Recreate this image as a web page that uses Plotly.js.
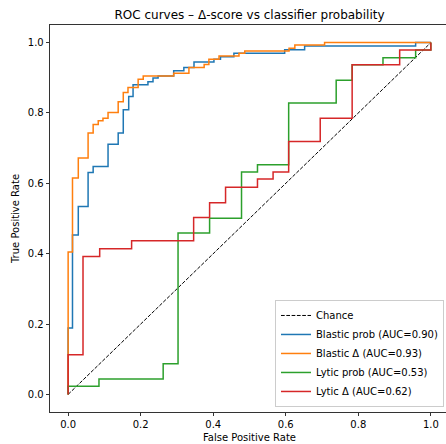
<!DOCTYPE html>
<html>
<head>
<meta charset="utf-8">
<script src="https://cdn.plot.ly/plotly-3.0.1.min.js"></script>
<style>
  html, body { margin: 0; padding: 0; overflow: hidden; background: #fff; }
  #chart { width: 452px; height: 444px; }
</style>
</head>
<body>
<div id="chart"></div>
<script>
// ---- data ----
const chartTitle = "ROC curves – Δ-score vs classifier probability";
const xTitle = "False Positive Rate";
const yTitle = "True Positive Rate";
const tickVals = [0, 0.2, 0.4, 0.6, 0.8, 1.0];
const tickLabels = ["0.0", "0.2", "0.4", "0.6", "0.8", "1.0"];

const seriesNames = ["Chance", "Blastic prob (AUC=0.90)", "Blastic Δ (AUC=0.93)", "Lytic prob (AUC=0.53)", "Lytic Δ (AUC=0.62)"];

const chanceFpr = [0, 1];
const chanceTpr = [0, 1];

const blasticProbFpr = [0, 0, 0.012, 0.012, 0.028, 0.028, 0.055, 0.055, 0.069, 0.069, 0.110, 0.110, 0.138, 0.138, 0.152, 0.152, 0.167, 0.167, 0.179, 0.179, 0.220, 0.220, 0.234, 0.234, 0.248, 0.248, 0.291, 0.291, 0.319, 0.319, 0.347, 0.347, 0.402, 0.402, 0.420, 0.420, 0.457, 0.457, 0.597, 0.597, 0.652, 0.652, 0.958, 0.958, 1.0];
const blasticProbTpr = [0, 0.189, 0.189, 0.453, 0.453, 0.534, 0.534, 0.631, 0.631, 0.648, 0.648, 0.711, 0.711, 0.743, 0.743, 0.809, 0.809, 0.847, 0.847, 0.880, 0.880, 0.889, 0.889, 0.899, 0.899, 0.905, 0.905, 0.920, 0.920, 0.929, 0.929, 0.945, 0.945, 0.953, 0.953, 0.960, 0.960, 0.970, 0.970, 0.980, 0.980, 0.990, 0.990, 1.0, 1.0];

const blasticDeltaFpr = [0, 0, 0.012, 0.012, 0.028, 0.028, 0.055, 0.055, 0.069, 0.069, 0.083, 0.083, 0.096, 0.096, 0.110, 0.110, 0.138, 0.138, 0.152, 0.152, 0.165, 0.165, 0.193, 0.193, 0.207, 0.207, 0.291, 0.291, 0.333, 0.333, 0.375, 0.375, 0.388, 0.388, 0.416, 0.416, 0.471, 0.471, 0.487, 0.487, 0.609, 0.609, 0.625, 0.625, 0.707, 0.707, 1.0];
const blasticDeltaTpr = [0, 0.405, 0.405, 0.615, 0.615, 0.672, 0.672, 0.743, 0.743, 0.767, 0.767, 0.778, 0.778, 0.785, 0.785, 0.801, 0.801, 0.832, 0.832, 0.858, 0.858, 0.872, 0.872, 0.896, 0.896, 0.905, 0.905, 0.913, 0.913, 0.929, 0.929, 0.938, 0.938, 0.953, 0.953, 0.962, 0.962, 0.970, 0.970, 0.976, 0.976, 0.984, 0.984, 0.993, 0.993, 1.0, 1.0];

const lyticProbFpr = [0, 0, 0.085, 0.085, 0.262, 0.262, 0.303, 0.303, 0.390, 0.390, 0.478, 0.478, 0.522, 0.522, 0.608, 0.608, 0.739, 0.739, 0.783, 0.783, 0.868, 0.868, 0.958, 0.958, 1.0, 1.0];
const lyticProbTpr = [0, 0.023, 0.023, 0.044, 0.044, 0.087, 0.087, 0.459, 0.459, 0.501, 0.501, 0.632, 0.632, 0.653, 0.653, 0.828, 0.828, 0.893, 0.893, 0.937, 0.937, 0.957, 0.957, 0.979, 0.979, 1.0];

const lyticDeltaFpr = [0, 0, 0.041, 0.041, 0.087, 0.087, 0.175, 0.175, 0.346, 0.346, 0.390, 0.390, 0.434, 0.434, 0.522, 0.522, 0.565, 0.565, 0.608, 0.608, 0.695, 0.695, 0.783, 0.783, 0.914, 0.914, 1.0, 1.0];
const lyticDeltaTpr = [0, 0.113, 0.113, 0.392, 0.392, 0.414, 0.414, 0.437, 0.437, 0.503, 0.503, 0.545, 0.545, 0.589, 0.589, 0.612, 0.612, 0.632, 0.632, 0.719, 0.719, 0.785, 0.785, 0.937, 0.937, 0.979, 0.979, 1.0];

const seriesColors = ["#000000", "#1f77b4", "#ff7f0e", "#2ca02c", "#d62728"];

// ---- traces ----
const FONT = "DejaVu Sans, sans-serif";
const xs = [chanceFpr, blasticProbFpr, blasticDeltaFpr, lyticProbFpr, lyticDeltaFpr];
const ys = [chanceTpr, blasticProbTpr, blasticDeltaTpr, lyticProbTpr, lyticDeltaTpr];

const traces = xs.map((x, i) => ({
  x: x,
  y: ys[i],
  type: "scatter",
  mode: "lines",
  name: seriesNames[i],
  line: i === 0
    ? { color: seriesColors[i], width: 1, dash: "3.7px,1.6px" }
    : { color: seriesColors[i], width: 1.5 },
  hoverinfo: "skip"
}));

const axisCommon = {
  range: [-0.05, 1.05],
  tickvals: tickVals,
  ticktext: tickLabels,
  ticks: "outside",
  ticklen: 3.5,
  tickwidth: 0.8,
  tickcolor: "#000",
  showline: true,
  linecolor: "#000",
  linewidth: 0.8,
  mirror: true,
  showgrid: false,
  zeroline: false,
  tickfont: { family: FONT, size: 10, color: "#000" }
};

const layout = {
  width: 452,
  height: 444,
  margin: { l: 50, r: 3, t: 25, b: 32 },
  paper_bgcolor: "#ffffff",
  plot_bgcolor: "#ffffff",
  font: { family: FONT, size: 10, color: "#000" },
  title: {
    text: chartTitle,
    font: { family: FONT, size: 12, color: "#000" },
    x: 0.5, xref: "paper", xanchor: "center",
    y: 1, yref: "paper", yanchor: "bottom",
    pad: { b: 6 }
  },
  xaxis: Object.assign({}, axisCommon, {
    title: { text: xTitle, font: { family: FONT, size: 10, color: "#000" }, standoff: 4 }
  }),
  yaxis: Object.assign({}, axisCommon, {
    title: { text: yTitle, font: { family: FONT, size: 10, color: "#000" }, standoff: 6 }
  }),
  showlegend: true,
  legend: {
    x: 0.9875, xanchor: "right",
    y: 0.013, yanchor: "bottom",
    bgcolor: "rgba(255,255,255,0.8)",
    bordercolor: "#cccccc",
    borderwidth: 1,
    font: { family: FONT, size: 10, color: "#000" },
    tracegroupgap: 0
  }
};

Plotly.newPlot("chart", traces, layout, { displayModeBar: false, staticPlot: true });
</script>
</body>
</html>
